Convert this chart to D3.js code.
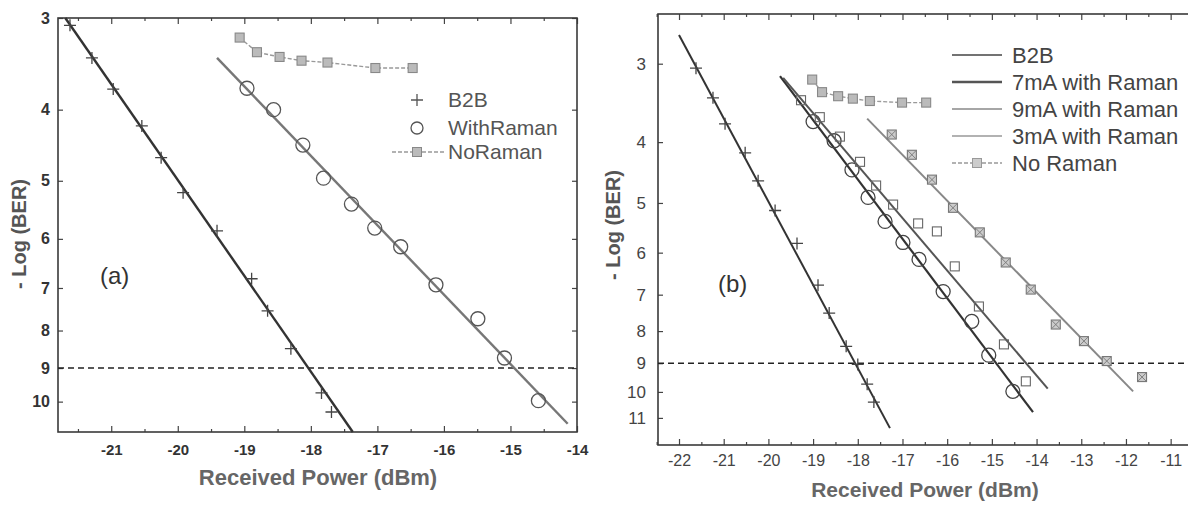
<!DOCTYPE html>
<html>
<head>
<meta charset="utf-8">
<script src="https://cdn.jsdelivr.net/npm/d3@7/dist/d3.min.js"></script>
<style>
  body { margin: 0; background: #fff; }
  text { font-family: Arial, "Liberation Sans", sans-serif; }
</style>
</head>
<body>
<svg id="chart" width="1188" height="506"></svg>
<script>
// ===== DATA: panel (a) =====  [power dBm, -log(BER)]
const aB2B = [[-21.62,3.07],[-21.29,3.40],[-20.97,3.75],[-20.54,4.21],[-20.25,4.65],[-19.92,5.19],
  [-19.41,5.85],[-18.89,6.80],[-18.65,7.52],[-18.30,8.47],[-17.84,9.73],[-17.69,10.33]];
const aB2BFit = [[-21.69,3.0],[-17.37,11.0]];
const aRaman = [[-18.96,3.74],[-18.56,4.00],[-18.12,4.47],[-17.81,4.96],[-17.39,5.38],[-17.04,5.80],
  [-16.65,6.15],[-16.12,6.93],[-15.49,7.71],[-15.09,8.72],[-14.58,9.97]];
const aRamanFit = [[-19.41,3.40],[-14.14,10.72]];
const aNoRaman = [[-19.07,3.19],[-18.81,3.34],[-18.47,3.39],[-18.14,3.43],[-17.75,3.45],[-17.03,3.51],[-16.47,3.51]];
const aXTicks = [-21,-20,-19,-18,-17,-16,-15,-14];
const aYTicks = [3,4,5,6,7,8,9,10];

// ===== DATA: panel (b) =====
const bB2B = [[-21.62,3.05],[-21.24,3.40],[-20.97,3.74],[-20.52,4.16],[-20.23,4.61],[-19.85,5.14],[-19.36,5.80],
  [-18.89,6.76],[-18.64,7.49],[-18.26,8.46],[-18.00,9.04],[-17.79,9.72],[-17.64,10.38]];
const bB2BFit = [[-22.0,2.70],[-17.28,11.42]];
const b7mA = [[-19.00,3.71],[-18.53,3.98],[-18.13,4.43],[-17.77,4.90],[-17.39,5.35],[-16.99,5.78],
  [-16.63,6.15],[-16.09,6.92],[-15.45,7.72],[-15.07,8.74],[-14.53,9.98]];
const b7mAFit = [[-19.74,3.14],[-14.08,10.77]];
const b9mA = [[-19.27,3.43],[-18.85,3.65],[-18.40,3.92],[-17.95,4.30],[-17.59,4.69],[-17.21,5.03],
  [-16.65,5.39],[-16.23,5.55],[-15.83,6.31],[-15.29,7.31],[-14.73,8.40],[-14.24,9.62]];
const b9mAFit = [[-19.67,3.16],[-13.75,9.88]];
const b3mA = [[-17.24,3.89],[-16.79,4.19],[-16.34,4.59],[-15.87,5.09],[-15.27,5.57],[-14.69,6.22],
  [-14.13,6.87],[-13.57,7.81],[-12.94,8.30],[-12.43,8.93],[-11.64,9.47]];
const b3mAFit = [[-17.79,3.67],[-11.84,9.98]];
const bNoRaman = [[-19.02,3.18],[-18.80,3.33],[-18.44,3.38],[-18.11,3.41],[-17.73,3.44],[-17.01,3.46],[-16.47,3.46]];
const bXTicks = [-22,-21,-20,-19,-18,-17,-16,-15,-14,-13,-12,-11];
const bYTicks = [3,4,5,6,7,8,9,10,11];

const threshold = 9;

const svg = d3.select("#chart");

// ===== PANEL FRAME + AXES =====
function makePanel(p) {
  const x = d3.scaleLinear().domain(p.xDomain).range(p.xRange);
  const y = d3.scaleLog().domain(p.yDomain).range(p.yRange);
  const g = svg.append("g");
  const [x0, x1] = p.xRange, [y0, y1] = p.yRange;

  const minor = d3.range(Math.ceil(p.xDomain[0]) - 0.5, p.xDomain[1], 1);

  // bottom axis
  const bot = g.append("g").attr("transform", `translate(0,${y1})`)
    .call(d3.axisBottom(x).tickValues(p.xTicks).tickSizeInner(-6).tickSizeOuter(0)
      .tickPadding(p.xPad).tickFormat(d => String(d)));
  bot.selectAll("text").attr("font-size", p.tickSize).attr("font-weight", p.tickWeight).attr("fill", p.tickColor);
  g.append("g").attr("transform", `translate(0,${y1})`)
    .call(d3.axisBottom(x).tickValues(minor).tickSizeInner(-3).tickSizeOuter(0).tickFormat(""));
  // top axis
  g.append("g").attr("transform", `translate(0,${y0})`)
    .call(d3.axisTop(x).tickValues(p.xTicks).tickSizeInner(-6).tickSizeOuter(0).tickFormat(""));
  g.append("g").attr("transform", `translate(0,${y0})`)
    .call(d3.axisTop(x).tickValues(minor).tickSizeInner(-3).tickSizeOuter(0).tickFormat(""));
  // left axis
  const left = g.append("g").attr("transform", `translate(${x0},0)`)
    .call(d3.axisLeft(y).tickValues(p.yTicks).tickSizeInner(-5).tickSizeOuter(0)
      .tickPadding(p.yPad).tickFormat(d3.format("d")));
  left.selectAll("text").attr("font-size", p.tickSize + 1).attr("font-weight", p.tickWeight).attr("fill", p.tickColor);
  // right axis
  g.append("g").attr("transform", `translate(${x1},0)`)
    .call(d3.axisRight(y).tickValues(p.yTicks).tickSizeInner(-5).tickSizeOuter(0).tickFormat(""));

  g.selectAll(".domain").remove();
  g.selectAll(".tick line").attr("stroke", "#444").attr("stroke-width", 1.2);

  g.append("rect")
    .attr("x", x0).attr("y", y0).attr("width", x1 - x0).attr("height", y1 - y0)
    .attr("fill", "none").attr("stroke", "#3a3a3a").attr("stroke-width", 1.6);

  // threshold line
  g.append("line")
    .attr("x1", x0).attr("x2", x1).attr("y1", y(threshold)).attr("y2", y(threshold))
    .attr("stroke", "#222").attr("stroke-width", 1.4).attr("stroke-dasharray", "6,4");

  // axis titles
  g.append("text")
    .attr("x", p.xTitle[0]).attr("y", p.xTitle[1])
    .attr("text-anchor", "middle").attr("font-size", p.xTitleSize).attr("font-weight", "bold").attr("fill", "#666")
    .text("Received Power (dBm)");
  g.append("text")
    .attr("transform", `translate(${p.yTitle[0]},${p.yTitle[1]}) rotate(-90)`)
    .attr("text-anchor", "middle").attr("font-size", 20).attr("font-weight", "bold").attr("fill", "#555")
    .text("- Log (BER)");
  g.append("text")
    .attr("x", p.tag[0]).attr("y", p.tag[1])
    .attr("font-size", 24).attr("fill", "#333")
    .text(p.tagText);

  return { g, x, y };
}

// ===== MARKERS =====
function fitLine(pn, data, color, width, dash) {
  const line = d3.line().x(d => pn.x(d[0])).y(d => pn.y(d[1]));
  pn.g.append("path").datum(data)
    .attr("d", line).attr("fill", "none")
    .attr("stroke", color).attr("stroke-width", width)
    .attr("stroke-dasharray", dash || null);
}

function plusMarks(pn, data, color) {
  pn.g.selectAll(null).data(data).join("path")
    .attr("transform", d => `translate(${pn.x(d[0])},${pn.y(d[1])})`)
    .attr("d", "M-6,0H6M0,-6V6")
    .attr("stroke", color).attr("stroke-width", 1.3);
}

function circleMarks(pn, data, color) {
  pn.g.selectAll(null).data(data).join("circle")
    .attr("cx", d => pn.x(d[0])).attr("cy", d => pn.y(d[1])).attr("r", 7)
    .attr("fill", "none").attr("stroke", color).attr("stroke-width", 1.3);
}

function squareMarks(pn, data, fill, stroke, cross) {
  const s = pn.g.selectAll(null).data(data).join("g")
    .attr("transform", d => `translate(${pn.x(d[0])},${pn.y(d[1])})`);
  s.append("rect").attr("x", -4.5).attr("y", -4.5).attr("width", 9).attr("height", 9)
    .attr("fill", fill).attr("stroke", stroke).attr("stroke-width", 1.1);
  if (cross) {
    s.append("path").attr("d", "M-4,-4L4,4M-4,4L4,-4")
      .attr("stroke", stroke).attr("stroke-width", 0.9);
  }
}

// ===== PANEL (a) =====
const pa = makePanel({
  xDomain: [-21.8, -14], xRange: [58, 577],
  yDomain: [3, 11], yRange: [18, 432],
  xTicks: aXTicks, yTicks: aYTicks,
  xPad: 12, yPad: 8, tickSize: 15, tickWeight: "bold", tickColor: "#333",
  xTitle: [318, 485], xTitleSize: 22, yTitle: [26, 234], tag: [100, 284], tagText: "(a)"
});

fitLine(pa, aB2BFit, "#333", 2.4);
plusMarks(pa, aB2B, "#444");
fitLine(pa, aRamanFit, "#777", 2.4);
circleMarks(pa, aRaman, "#555");
fitLine(pa, aNoRaman, "#999", 1.4, "4,2");
squareMarks(pa, aNoRaman, "#bbb", "#888", false);

// legend (a)
const la = pa.g.append("g");
la.append("path").attr("d", "M411,100H423M417,94V106").attr("stroke", "#555").attr("stroke-width", 1.3);
la.append("circle").attr("cx", 417).attr("cy", 128).attr("r", 6).attr("fill", "none").attr("stroke", "#555").attr("stroke-width", 1.3);
la.append("line").attr("x1", 392).attr("x2", 444).attr("y1", 152).attr("y2", 152)
  .attr("stroke", "#999").attr("stroke-width", 1.4).attr("stroke-dasharray", "4,2");
la.append("rect").attr("x", 412.5).attr("y", 147.5).attr("width", 9).attr("height", 9)
  .attr("fill", "#bbb").attr("stroke", "#888");
[["B2B", 100], ["WithRaman", 128], ["NoRaman", 152]].forEach(([t, yy]) => {
  la.append("text").attr("x", 448).attr("y", yy + 7).attr("font-size", 21).attr("fill", "#555").text(t);
});

// ===== PANEL (b) =====
const pb = makePanel({
  xDomain: [-22.47, -10.5], xRange: [658, 1193],
  yDomain: [2.5, 12.15], yRange: [14, 445],
  xTicks: bXTicks, yTicks: bYTicks,
  xPad: 10, yPad: 12, tickSize: 16, tickWeight: "normal", tickColor: "#444",
  xTitle: [925, 497], xTitleSize: 21, yTitle: [620, 225], tag: [718, 292], tagText: "(b)"
});

fitLine(pb, bB2BFit, "#333", 2);
plusMarks(pb, bB2B, "#444");
fitLine(pb, b7mAFit, "#333", 2.2);
circleMarks(pb, b7mA, "#444");
fitLine(pb, b9mAFit, "#555", 2);
squareMarks(pb, b9mA, "none", "#666", false);
fitLine(pb, b3mAFit, "#888", 2);
squareMarks(pb, b3mA, "#ccc", "#777", true);
fitLine(pb, bNoRaman, "#999", 1.4, "4,2");
squareMarks(pb, bNoRaman, "#bbb", "#888", false);

// legend (b)
const lb = pb.g.append("g");
const bLegend = [
  { label: "B2B", color: "#444", width: 1.6, dash: null, sq: false },
  { label: "7mA with Raman", color: "#555", width: 2.4, dash: null, sq: false },
  { label: "9mA with Raman", color: "#888", width: 1.6, dash: null, sq: false },
  { label: "3mA with Raman", color: "#999", width: 1.6, dash: null, sq: false },
  { label: "No Raman", color: "#999", width: 1.4, dash: "4,2", sq: true }
];
bLegend.forEach((d, i) => {
  const yy = 55 + i * 27;
  lb.append("line").attr("x1", 952).attr("x2", 1002).attr("y1", yy).attr("y2", yy)
    .attr("stroke", d.color).attr("stroke-width", d.width).attr("stroke-dasharray", d.dash);
  if (d.sq) {
    lb.append("rect").attr("x", 972.5).attr("y", yy - 4.5).attr("width", 9).attr("height", 9)
      .attr("fill", "#ccc").attr("stroke", "#999");
  }
  lb.append("text").attr("x", 1012).attr("y", yy + 8).attr("font-size", 22).attr("fill", "#444").text(d.label);
});
</script>
</body>
</html>
